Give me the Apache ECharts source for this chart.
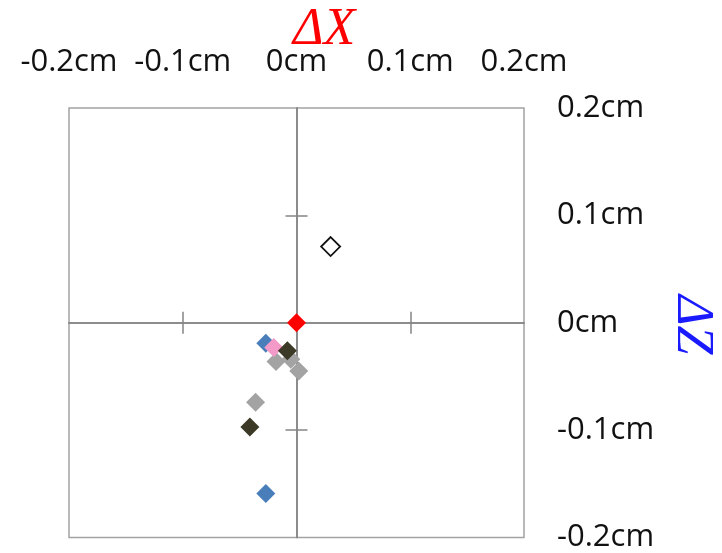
<!DOCTYPE html>
<html>
<head>
<meta charset="utf-8">
<script src="https://cdn.jsdelivr.net/npm/echarts@6/dist/echarts.min.js"></script>
<style>html,body{margin:0;padding:0;background:#fff}#c{width:722px;height:553px}</style>
</head>
<body>
<div id="c"></div>
<script>
var xTickValues = [-0.2, -0.1, 0, 0.1, 0.2];
var xTickLabels = ['-0.2cm', '-0.1cm', '0cm', '0.1cm', '0.2cm'];
var yTickValues = [-0.2, -0.1, 0, 0.1, 0.2];
var yTickLabels = ['-0.2cm', '-0.1cm', '0cm', '0.1cm', '0.2cm'];
var innerTickValues = [-0.1, 0.1];

var grayPoints = [[-0.018, -0.036], [-0.005, -0.034], [0.002, -0.045], [-0.036, -0.074]];
var bluePoints = [[-0.027, -0.019], [-0.027, -0.159]];
var pinkPoints = [[-0.020, -0.023]];
var darkPoints = [[-0.008, -0.026], [-0.041, -0.097]];
var redPoints = [[0, 0]];
var hollowPoints = [[0.030, 0.071]];

function lbl(values, labels) {
  return function (v) {
    for (var i = 0; i < values.length; i++) {
      if (Math.abs(values[i] - v) < 1e-9) return labels[i];
    }
    return '';
  };
}

var chart = echarts.init(document.getElementById('c'));
var FONT = 'Open Sans';
function lineAxis(pos, inside) {
  return {
    type: 'value', min: -0.2, max: 0.2, interval: 0.1, position: pos,
    axisLine: { show: true, onZero: true, onZeroAxisIndex: 0, lineStyle: { color: '#858585', width: 1.5 } },
    axisTick: { show: true, inside: inside, length: 11, customValues: innerTickValues, lineStyle: { color: '#858585', width: 1.5 } },
    axisLabel: { show: false },
    splitLine: { show: false }
  };
}
var xa0 = {
  type: 'value', min: -0.2, max: 0.2, interval: 0.1, position: 'top',
  axisLine: { show: false, onZero: false },
  axisTick: { show: false },
  splitLine: { show: false },
  axisLabel: { show: true, margin: 30, fontSize: 31, color: '#111', fontFamily: FONT,
    formatter: lbl(xTickValues, xTickLabels) }
};
var ya0 = {
  type: 'value', min: -0.2, max: 0.2, interval: 0.1, position: 'right',
  axisLine: { show: false, onZero: false },
  axisTick: { show: false },
  splitLine: { show: false },
  axisLabel: { show: true, margin: 33, fontSize: 31, color: '#111', fontFamily: FONT,
    align: 'left', formatter: lbl(yTickValues, yTickLabels) }
};
var xa1 = lineAxis('bottom', false), xa2 = lineAxis('bottom', true);
var ya1 = lineAxis('left', false), ya2 = lineAxis('left', true);

function sc(name, data, color, hollow) {
  return {
    name: name, type: 'scatter', xAxisIndex: 0, yAxisIndex: 0,
    data: data, symbol: 'diamond', symbolSize: 19,
    itemStyle: hollow ? { color: '#fff', borderColor: '#111', borderWidth: 1.8, opacity: 1 } : { color: color, opacity: 1 },
    emphasis: { disabled: true }, z: 5
  };
}

chart.setOption({
  animation: false,
  backgroundColor: '#fff',
  grid: { left: 69, top: 108, width: 455, height: 430, show: true, borderColor: '#a3a3a3', borderWidth: 1.5, backgroundColor: 'transparent' },
  xAxis: [xa0, xa1, xa2],
  yAxis: [ya0, ya1, ya2],
  series: [
    sc('gray', grayPoints, '#a3a3a3'),
    sc('blue', bluePoints, '#4a7ebb'),
    sc('pink', pinkPoints, '#f49ac8'),
    sc('dark', darkPoints, '#3c3a26'),
    sc('red', redPoints, '#ff0000'),
    sc('hollow', hollowPoints, '#fff', true)
  ],
  graphic: [
    { type: 'text', left: 293, top: 4, style: { text: 'ΔX', fill: '#ff0000', font: 'italic 52px "Liberation Serif"' } },
    { type: 'text', x: 718, y: 295, rotation: -Math.PI / 2, style: { text: 'ΔZ', fill: '#1a1aff', font: 'italic 52px "Liberation Serif"' } }
  ]
});
</script>
</body>
</html>
